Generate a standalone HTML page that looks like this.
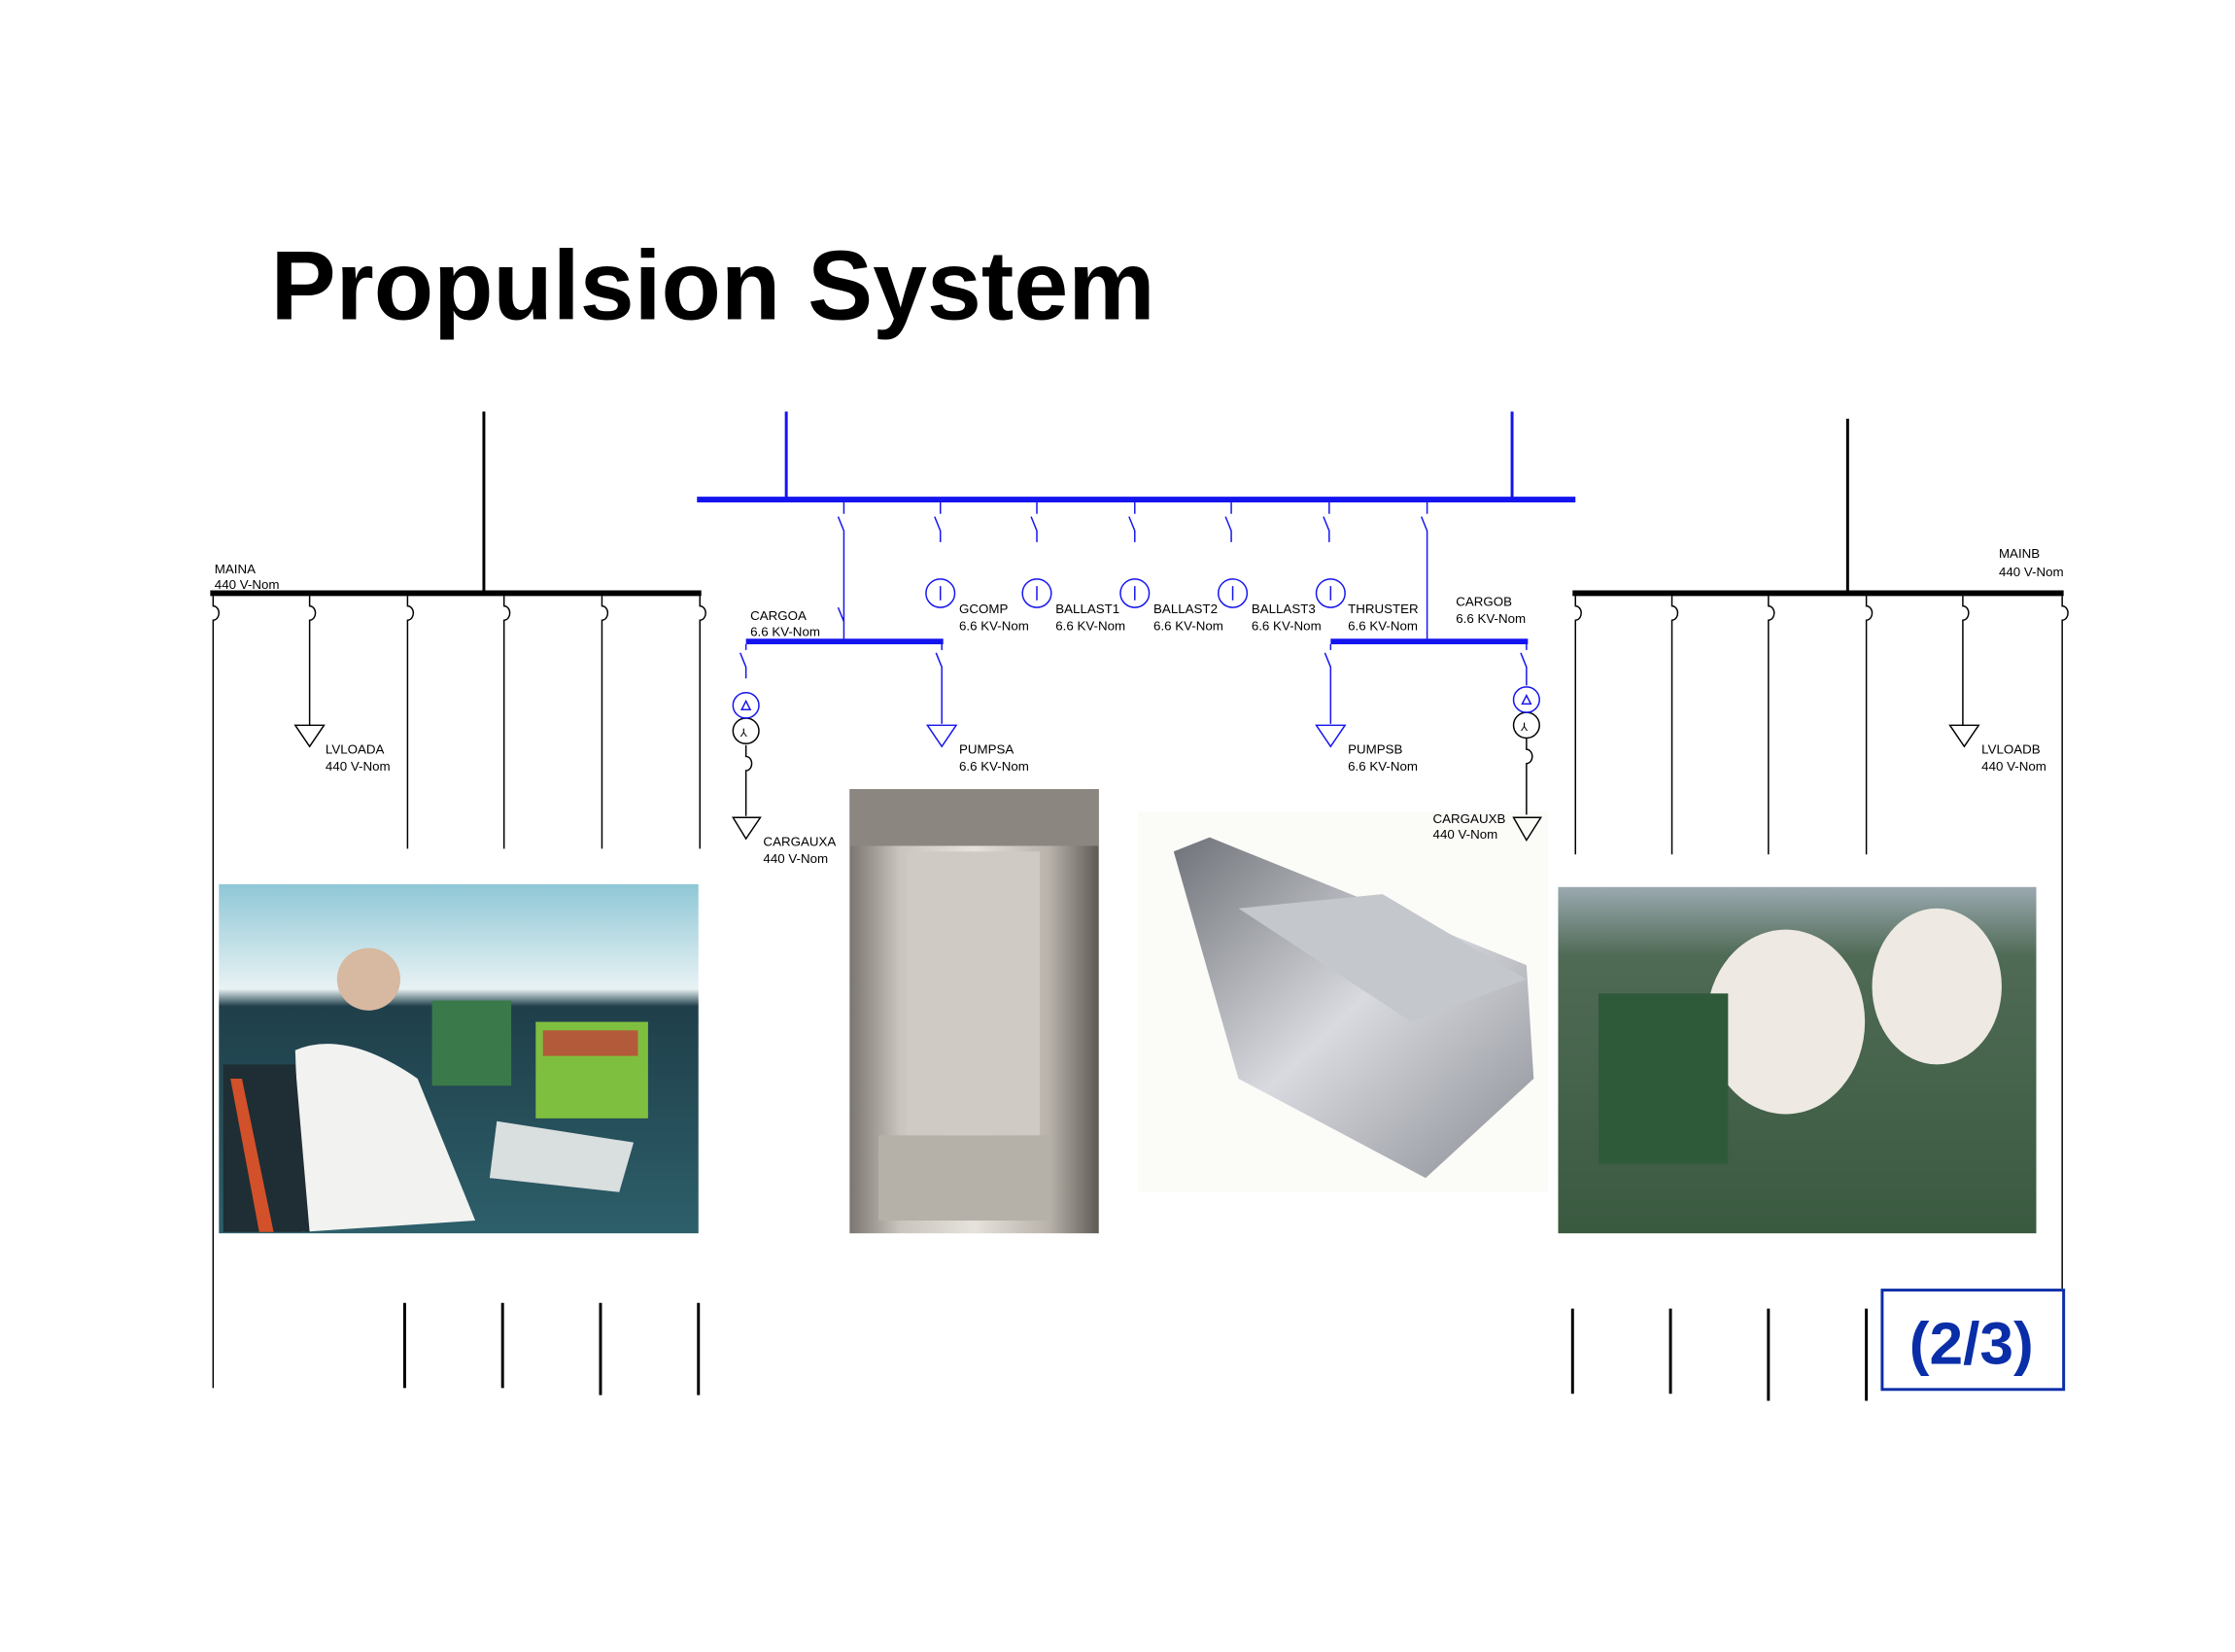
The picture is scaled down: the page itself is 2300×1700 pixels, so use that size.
<!DOCTYPE html>
<html><head><meta charset="utf-8"><style>
html,body{margin:0;padding:0;background:#fff;}
svg{display:block;}
text{font-family:"Liberation Sans",Arial,sans-serif;}
</style></head><body>
<svg width="2300" height="1700" viewBox="0 0 1552 1164" preserveAspectRatio="none" xmlns="http://www.w3.org/2000/svg">
<defs>
<linearGradient id="g1" x1="0" y1="0" x2="0" y2="1"><stop offset="0" stop-color="#8fc7d6"/><stop offset="0.3" stop-color="#e8f2f4"/><stop offset="0.35" stop-color="#1f3f4a"/><stop offset="1" stop-color="#2d5f6a"/></linearGradient>
<linearGradient id="g2" x1="0" y1="0" x2="1" y2="0"><stop offset="0" stop-color="#7a7570"/><stop offset="0.2" stop-color="#c9c4bd"/><stop offset="0.5" stop-color="#e6e2dc"/><stop offset="0.8" stop-color="#b8b2aa"/><stop offset="1" stop-color="#5e5a55"/></linearGradient>
<linearGradient id="g4" x1="0" y1="0" x2="0" y2="1"><stop offset="0" stop-color="#9aa9b0"/><stop offset="0.2" stop-color="#4f6a55"/><stop offset="1" stop-color="#3a5a40"/></linearGradient>
<linearGradient id="g3" x1="0" y1="0" x2="1" y2="1"><stop offset="0" stop-color="#6f7278"/><stop offset="0.5" stop-color="#d8dadf"/><stop offset="1" stop-color="#8a8d94"/></linearGradient>
</defs>
<text x="188" y="225" font-size="69" font-weight="bold" textLength="614" lengthAdjust="spacingAndGlyphs">Propulsion System</text>

<!-- photos -->
<rect x="152" y="623" width="333" height="246" fill="url(#g1)"/>
<rect x="300" y="705" width="55" height="60" fill="#3a7a4a"/><rect x="372" y="720" width="78" height="68" fill="#7fbf3f"/>
<rect x="377" y="726" width="66" height="18" fill="#b35a3a"/>
<path d="M205 740 Q240 725 290 760 L330 860 L210 868 Z" fill="#f2f2f0"/>
<circle cx="256" cy="690" r="22" fill="#d7b8a0"/>
<path d="M155 750 L205 750 L215 868 L155 868 Z" fill="#1e2e34"/><path d="M160 760 L168 760 L190 868 L180 868 Z" fill="#d2502a"/>
<path d="M345 790 L440 805 L430 840 L340 830 Z" fill="#d9dede"/>

<rect x="590" y="556" width="173" height="313" fill="url(#g2)"/>
<rect x="630" y="600" width="92" height="200" fill="#cfcac3"/><rect x="610" y="800" width="120" height="60" fill="#b5b0a8"/>
<rect x="590" y="556" width="173" height="40" fill="#8b8680"/>

<rect x="790" y="572" width="285" height="268" fill="#fbfbf8"/>
<path d="M815 600 L840 590 L1060 680 L1065 760 L990 830 L860 760 Z" fill="url(#g3)"/>
<path d="M860 640 L960 630 L1060 690 L980 720 Z" fill="#c4c7cc"/>

<rect x="1082" y="625" width="332" height="244" fill="url(#g4)"/>
<ellipse cx="1240" cy="720" rx="55" ry="65" fill="#eee9e2"/><ellipse cx="1345" cy="695" rx="45" ry="55" fill="#eee9e2"/>
<rect x="1110" y="700" width="90" height="120" fill="#2f5a3a"/>

<!-- black MAINA -->
<g stroke="#000" fill="none">
<line x1="336" y1="290" x2="336" y2="418" stroke-width="2"/>
<line x1="146" y1="418" x2="487" y2="418" stroke-width="4"/>
<line x1="1283" y1="295" x2="1283" y2="418" stroke-width="2"/>
<line x1="1092" y1="418" x2="1433" y2="418" stroke-width="4"/>
<g stroke-width="1">
<path d="M148 420 v7 a4 5 0 0 1 0 10 v541"/>
<path d="M215 420 v7 a4 5 0 0 1 0 10 v74"/>
<path d="M283 420 v7 a4 5 0 0 1 0 10 v161"/>
<path d="M350 420 v7 a4 5 0 0 1 0 10 v161"/>
<path d="M418 420 v7 a4 5 0 0 1 0 10 v161"/>
<path d="M486 420 v7 a4 5 0 0 1 0 10 v161"/>
<path d="M1094 420 v7 a4 5 0 0 1 0 10 v165"/>
<path d="M1161 420 v7 a4 5 0 0 1 0 10 v165"/>
<path d="M1228 420 v7 a4 5 0 0 1 0 10 v165"/>
<path d="M1296 420 v7 a4 5 0 0 1 0 10 v165"/>
<path d="M1363 420 v7 a4 5 0 0 1 0 10 v74"/>
<path d="M1432 420 v7 a4 5 0 0 1 0 10 v471"/>
<polygon points="205,511 225,511 215,526"/>
<polygon points="1354,511 1374,511 1364,526"/>
<path d="M518 525 v8 a4 5 0 0 1 0 10 v32"/>
<polygon points="509,576 528,576 518,591"/>
<circle cx="518" cy="515" r="9"/>
<path d="M1060 520 v8 a4 5 0 0 1 0 10 v36"/>
<polygon points="1051,576 1070,576 1060,592"/>
<circle cx="1060" cy="511" r="9"/>
</g>
<g stroke-width="2">
<line x1="281" y1="918" x2="281" y2="978"/><line x1="349" y1="918" x2="349" y2="978"/>
<line x1="417" y1="918" x2="417" y2="983"/><line x1="485" y1="918" x2="485" y2="983"/>
<line x1="1092" y1="922" x2="1092" y2="982"/><line x1="1160" y1="922" x2="1160" y2="982"/>
<line x1="1228" y1="922" x2="1228" y2="987"/><line x1="1296" y1="922" x2="1296" y2="987"/>
</g>
</g>
<text x="514" y="519" font-size="8">⅄</text><text x="1056" y="515" font-size="8">⅄</text>

<!-- blue -->
<g stroke="#1414f0" fill="none">
<line x1="484" y1="352" x2="1094" y2="352" stroke-width="4"/>
<line x1="546" y1="290" x2="546" y2="352" stroke-width="2"/>
<line x1="1050" y1="290" x2="1050" y2="352" stroke-width="2"/>
<line x1="518" y1="452" x2="655" y2="452" stroke-width="4"/>
<line x1="924" y1="452" x2="1061" y2="452" stroke-width="4"/>
<g stroke-width="1">
<path d="M586 354 v8 M582 364 l4 10 v71 M582 428 l4 10 v14"/>
<path d="M653 354 v8 M649 364 l4 10 v8"/>
<path d="M720 354 v8 M716 364 l4 10 v8"/>
<path d="M788 354 v8 M784 364 l4 10 v8"/>
<path d="M855 354 v8 M851 364 l4 10 v8"/>
<path d="M923 354 v8 M919 364 l4 10 v8"/>
<path d="M991 354 v8 M987 364 l4 10 v78"/>
<path d="M518 454 v4 M514 460 l4 10 v8"/>
<path d="M654 454 v4 M650 460 l4 10 v40"/>
<path d="M924 454 v4 M920 460 l4 10 v40"/>
<path d="M1060 454 v4 M1056 460 l4 10 v13"/>
<circle cx="653" cy="418" r="10"/><circle cx="720" cy="418" r="10"/><circle cx="788" cy="418" r="10"/><circle cx="856" cy="418" r="10"/><circle cx="924" cy="418" r="10"/>
<path d="M653 413 v10 M720 413 v10 M788 413 v10 M856 413 v10 M924 413 v10"/>
<circle cx="518" cy="497" r="9"/><circle cx="1060" cy="493" r="9"/>
<path d="M515 500 l3 -6 l3 6 z M1057 496 l3 -6 l3 6 z"/>
<polygon points="644,511 664,511 654,526"/>
<polygon points="914,511 934,511 924,526"/>
</g>
</g>

<g font-size="9" fill="#000">
<text x="149" y="404">MAINA</text><text x="149" y="415">440 V-Nom</text>
<text x="1388" y="393">MAINB</text><text x="1388" y="406">440 V-Nom</text>
<text x="226" y="531">LVLOADA</text><text x="226" y="543">440 V-Nom</text>
<text x="1376" y="531">LVLOADB</text><text x="1376" y="543">440 V-Nom</text>
<text x="521" y="437">CARGOA</text><text x="521" y="448">6.6 KV-Nom</text>
<text x="1011" y="427">CARGOB</text><text x="1011" y="439">6.6 KV-Nom</text>
<text x="666" y="432">GCOMP</text><text x="666" y="444">6.6 KV-Nom</text>
<text x="733" y="432">BALLAST1</text><text x="733" y="444">6.6 KV-Nom</text>
<text x="801" y="432">BALLAST2</text><text x="801" y="444">6.6 KV-Nom</text>
<text x="869" y="432">BALLAST3</text><text x="869" y="444">6.6 KV-Nom</text>
<text x="936" y="432">THRUSTER</text><text x="936" y="444">6.6 KV-Nom</text>
<text x="666" y="531">PUMPSA</text><text x="666" y="543">6.6 KV-Nom</text>
<text x="936" y="531">PUMPSB</text><text x="936" y="543">6.6 KV-Nom</text>
<text x="530" y="596">CARGAUXA</text><text x="530" y="608">440 V-Nom</text>
<text x="995" y="580">CARGAUXB</text><text x="995" y="591">440 V-Nom</text>
</g>

<rect x="1307" y="909" width="126" height="70" fill="none" stroke="#0a2ea8" stroke-width="2"/>
<text x="1369" y="961" font-size="42" font-weight="bold" fill="#0a2ea8" text-anchor="middle">(2/3)</text>
</svg>
</body></html>
